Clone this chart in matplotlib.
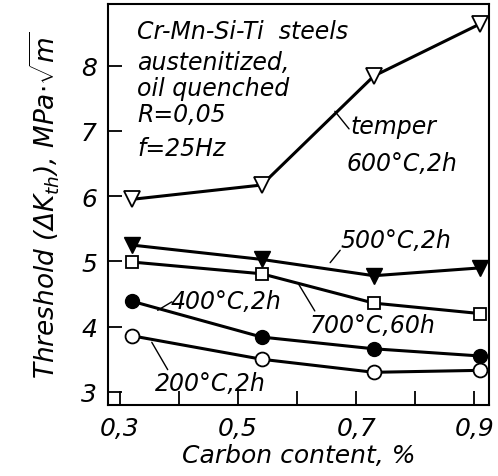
import matplotlib
matplotlib.use("Agg")
import matplotlib.pyplot as plt
from matplotlib.ticker import FixedLocator, FixedFormatter

plt.rcParams["font.family"] = "DejaVu Sans"
plt.rcParams["font.style"] = "italic"
plt.rcParams["mathtext.fontset"] = "custom"
plt.rcParams["mathtext.rm"] = "DejaVu Sans:italic"
plt.rcParams["mathtext.it"] = "DejaVu Sans:italic"

# carbon content, %
carbon = [0.32, 0.54, 0.73, 0.91]

# threshold values per heat treatment
temper_600 = [5.95, 6.17, 7.84, 8.64]
temper_500 = [5.25, 5.03, 4.78, 4.90]
temper_700 = [4.99, 4.81, 4.36, 4.20]
temper_400 = [4.39, 3.84, 3.66, 3.55]
temper_200 = [3.86, 3.50, 3.30, 3.33]

x_major = [0.3, 0.5, 0.7, 0.9]
x_major_labels = ["0,3", "0,5", "0,7", "0,9"]
x_minor = [0.4, 0.6, 0.8]
y_ticks = [3, 4, 5, 6, 7, 8]

fig = plt.figure(figsize=(4.98, 4.77), dpi=100)
ax = fig.add_axes([0.217, 0.149, 0.765, 0.840])

lw = 2.2
ax.plot(carbon, temper_600, color="black", lw=lw, marker="v", ms=11,
        mfc="white", mec="black", mew=1.3, zorder=3)
ax.plot(carbon, temper_500, color="black", lw=lw, marker="v", ms=11,
        mfc="black", mec="black", zorder=3)
ax.plot(carbon, temper_700, color="black", lw=lw, marker="s", ms=9,
        mfc="white", mec="black", mew=1.3, zorder=3)
ax.plot(carbon, temper_400, color="black", lw=lw, marker="o", ms=10,
        mfc="black", mec="black", zorder=3)
ax.plot(carbon, temper_200, color="black", lw=lw, marker="o", ms=10,
        mfc="white", mec="black", mew=1.3, zorder=3)

ax.set_xlim(0.28, 0.925)
ax.set_ylim(2.8, 8.94)

ax.xaxis.set_major_locator(FixedLocator(x_major))
ax.xaxis.set_major_formatter(FixedFormatter(x_major_labels))
ax.xaxis.set_minor_locator(FixedLocator(x_minor))
ax.set_yticks(y_ticks)
ax.tick_params(axis="both", which="both", direction="in", length=10,
               width=1.3, labelsize=18)
ax.tick_params(axis="x", pad=8)
ax.tick_params(axis="y", pad=8)
for s in ax.spines.values():
    s.set_linewidth(1.5)

ax.set_xlabel("Carbon content, %", fontsize=18, labelpad=2)
ax.set_ylabel(r"Threshold $(\Delta K_{th})$, MPa$\cdot\sqrt{m}$",
              fontsize=19, labelpad=14)

fs = 17
for txt, yv in [("Cr-Mn-Si-Ti  steels", 8.53), ("austenitized,", 8.05),
                ("oil quenched", 7.66), ("R=0,05", 7.26), ("f=25Hz", 6.74)]:
    ax.text(0.329, yv, txt, fontsize=fs, va="center", ha="left")

# labels with leader lines
leader = dict(arrowstyle="-", color="black", lw=1, shrinkA=0, shrinkB=0)
ax.text(0.69, 7.08, "temper", fontsize=fs, ha="left", va="center")
ax.text(0.683, 6.5, "600°C,2h", fontsize=fs, ha="left", va="center")
ax.annotate("", xy=(0.664, 7.3), xytext=(0.688, 7.03), arrowprops=leader)

ax.text(0.673, 5.32, "500°C,2h", fontsize=fs, ha="left", va="center")
ax.annotate("", xy=(0.656, 4.98), xytext=(0.673, 5.17), arrowprops=leader)

ax.text(0.622, 4.02, "700°C,60h", fontsize=fs, ha="left", va="center")
ax.annotate("", xy=(0.602, 4.66), xytext=(0.63, 4.24), arrowprops=leader)

ax.text(0.385, 4.40, "400°C,2h", fontsize=fs, ha="left", va="center")
ax.annotate("", xy=(0.364, 4.25), xytext=(0.388, 4.38), arrowprops=leader)

ax.text(0.36, 3.13, "200°C,2h", fontsize=fs, ha="left", va="center")
ax.annotate("", xy=(0.354, 3.76), xytext=(0.381, 3.34), arrowprops=leader)

fig.savefig("out.png", dpi=100)
